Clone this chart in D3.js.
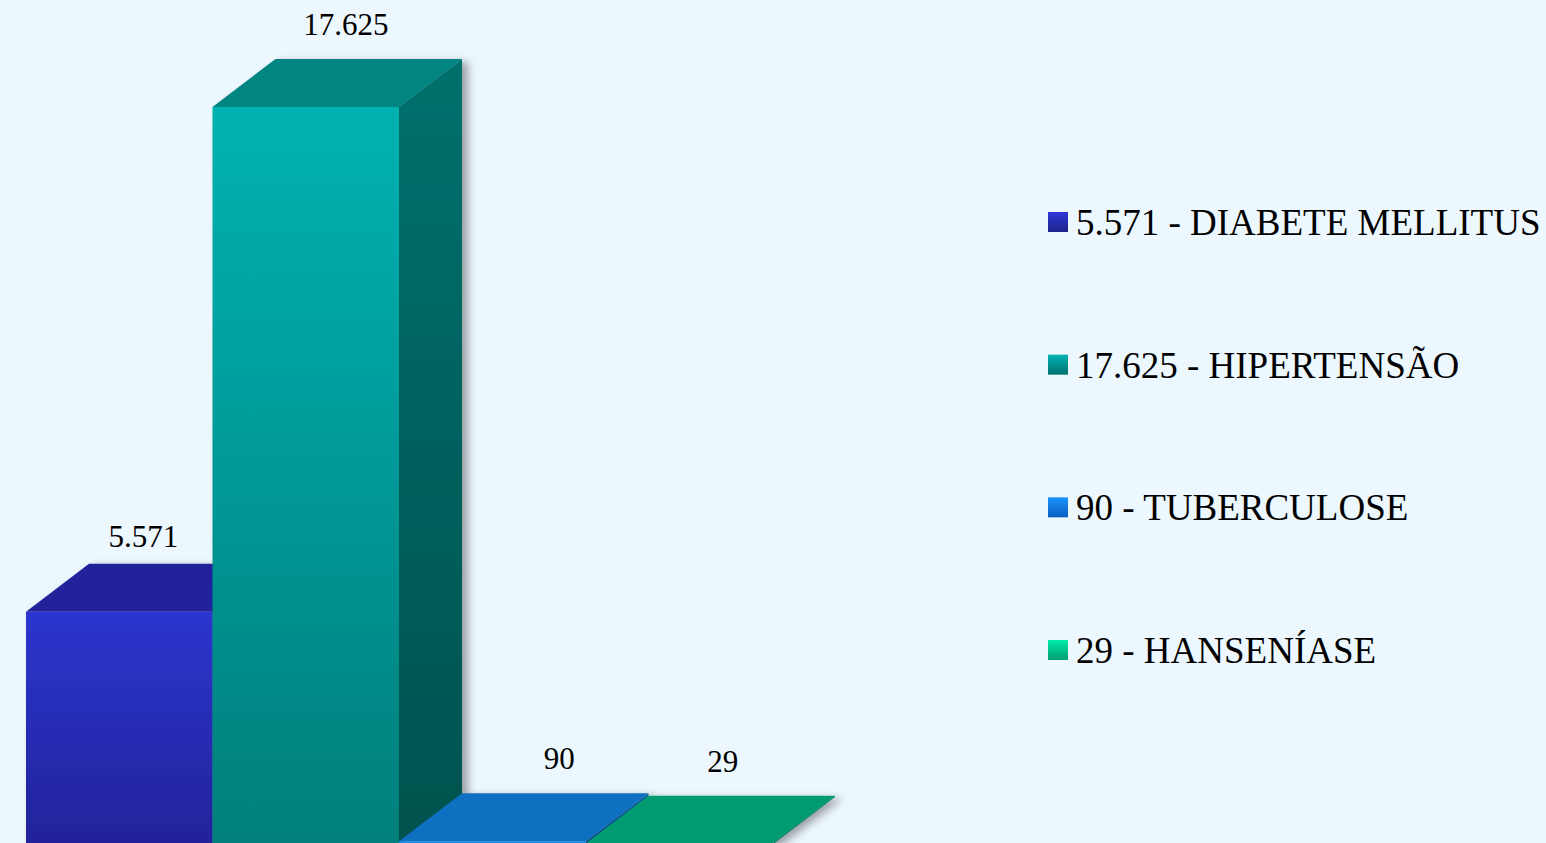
<!DOCTYPE html>
<html>
<head>
<meta charset="utf-8">
<script src="https://cdn.jsdelivr.net/npm/d3@7"></script>
<style>
  html, body { margin: 0; padding: 0; background: #ecf7fe; overflow: hidden; }
  svg { display: block; }
</style>
</head>
<body>
<div id="chart"></div>
<script>
// data
const categories = ["DIABETE MELLITUS", "HIPERTENSÃO", "TUBERCULOSE", "HANSENÍASE"];
const values = [5571, 17625, 90, 29];
const valueLabels = ["5.571", "17.625", "90", "29"];

// face colours per bar: [frontTop, frontBottom, top, sideTop, sideBottom]
const palette = [
  ["#2c35cf", "#21239a", "#20249a", "#1c2080", "#161a66"],
  ["#00b2b1", "#007f7c", "#008583", "#00706c", "#00524f"],
  ["#1a92ec", "#1580d8", "#0e6fc0", "#0b5fa0", "#094f88"],
  ["#00c494", "#00a878", "#009c70", "#008060", "#006a50"]
];
const legendColors = [
  ["#2e38d6", "#1d248e"],
  ["#00b3b2", "#00726f"],
  ["#1a93ff", "#0b5fc0"],
  ["#00eaa8", "#00a070"]
];

const width = 1546, height = 843;
const depthX = 63, depthY = -48;

const svg = d3.select("#chart").append("svg")
  .attr("width", width)
  .attr("height", height);

svg.append("rect").attr("width", width).attr("height", height).attr("fill", "#ecf7fe");

const defs = svg.append("defs");

const shadow = defs.append("filter").attr("id", "shadow")
  .attr("x", "-10%").attr("y", "-10%").attr("width", "130%").attr("height", "130%");
shadow.append("feDropShadow")
  .attr("dx", 6).attr("dy", 3).attr("stdDeviation", 4)
  .attr("flood-color", "#000").attr("flood-opacity", 0.35);

function vGrad(id, c1, c2) {
  const g = defs.append("linearGradient").attr("id", id)
    .attr("x1", 0).attr("y1", 0).attr("x2", 0).attr("y2", 1);
  g.append("stop").attr("offset", "0%").attr("stop-color", c1);
  g.append("stop").attr("offset", "100%").attr("stop-color", c2);
}

palette.forEach((p, i) => {
  vGrad("front" + i, p[0], p[1]);
  vGrad("side" + i, p[3], p[4]);
});
legendColors.forEach((c, i) => vGrad("leg" + i, c[0], c[1]));

const x = d3.scaleBand()
  .domain(categories)
  .range([26, 772])
  .paddingInner(0)
  .paddingOuter(0);

const y = d3.scaleLinear()
  .domain([0, 17625])
  .range([845, 107]);

const bars = svg.append("g").attr("filter", "url(#shadow)");

categories.forEach((c, i) => {
  const x0 = x(c), x1 = x0 + x.bandwidth();
  const yTop = y(values[i]), yBase = y(0);
  const g = bars.append("g");

  // side face
  g.append("path")
    .attr("d", `M${x1},${yTop}L${x1 + depthX},${yTop + depthY}L${x1 + depthX},${yBase + depthY}L${x1},${yBase}Z`)
    .attr("fill", `url(#side${i})`);
  // top face
  g.append("path")
    .attr("d", `M${x0},${yTop}L${x0 + depthX},${yTop + depthY}L${x1 + depthX},${yTop + depthY}L${x1},${yTop}Z`)
    .attr("fill", palette[i][2]);
  // front face
  g.append("rect")
    .attr("x", x0).attr("y", yTop)
    .attr("width", x.bandwidth()).attr("height", Math.max(0, yBase - yTop))
    .attr("fill", `url(#front${i})`);
});

// value labels
const labelOffsets = [24, 40, 67, 44];
svg.append("g").selectAll("text")
  .data(categories)
  .join("text")
  .attr("x", (d, i) => x(d) + x.bandwidth() / 2 + labelOffsets[i])
  .attr("y", (d, i) => y(values[i]) + depthY - (i === 0 ? 17 : 24))
  .attr("text-anchor", "middle")
  .attr("font-family", "'Liberation Serif', 'Times New Roman', serif")
  .attr("font-size", 31)
  .attr("fill", "#000")
  .text((d, i) => valueLabels[i]);

// legend
const legend = svg.append("g");
const legendY = d3.scalePoint().domain(categories).range([235, 663]);
categories.forEach((c, i) => {
  const ly = legendY(c);
  legend.append("rect")
    .attr("x", 1048).attr("y", ly - 23)
    .attr("width", 20).attr("height", 20)
    .attr("fill", `url(#leg${i})`);
  legend.append("text")
    .attr("x", 1076).attr("y", ly)
    .attr("font-family", "'Liberation Serif', 'Times New Roman', serif")
    .attr("font-size", 37)
    .attr("fill", "#000")
    .text(`${valueLabels[i]} - ${c}`);
});
</script>
</body>
</html>
